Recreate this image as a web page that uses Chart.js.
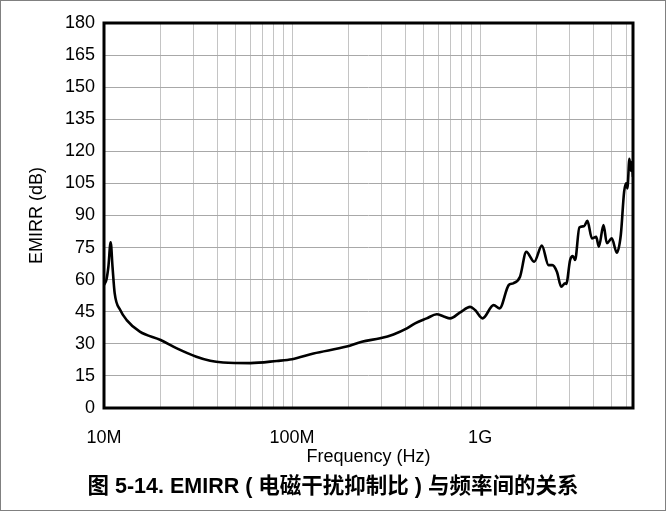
<!DOCTYPE html>
<html>
<head>
<meta charset="utf-8">
<script src="https://cdn.jsdelivr.net/npm/chart.js@4/dist/chart.umd.min.js"></script>
<style>
  html, body { margin: 0; padding: 0; background: #fff; }
  #wrap { width: 666px; height: 511px; }
</style>
</head>
<body>
<div id="wrap"><canvas id="c" width="666" height="511"></canvas></div>
<script>
// Measured EMIRR versus frequency
const freqMHz = [
  10, 10.3, 10.55, 10.85, 11.1, 11.4, 12.2, 13.2, 15.5, 20,
  24.4, 31, 36.7, 43, 60, 83, 100, 130, 195, 235,
  294, 346, 408, 451, 520, 588, 640, 692, 783, 885,
  940, 1030, 1180, 1270, 1420, 1500, 1630, 1760, 1940, 2130,
  2310, 2420, 2560, 2700, 2830, 2870, 3010, 3110, 3200, 3370,
  3570, 3720, 3930, 4140, 4280, 4530, 4720, 5010, 5330, 5600,
  5830, 5980, 6070, 6220, 6330, 6410, 6500
];
const emirrDb = [
  57.5, 60, 66, 77.5, 66, 53.6, 45.8, 41.1, 35.7, 31.8,
  27.9, 24.0, 22.1, 21.3, 21.0, 22.0, 22.8, 25.5, 28.7, 31.0,
  32.6, 34.4, 37.2, 39.6, 41.9, 43.8, 42.8, 41.9, 44.7, 47.3,
  45.8, 41.9, 48.1, 46.6, 57.5, 58.3, 61.4, 73.0, 68.4, 75.9,
  66.8, 66.8, 63.7, 56.7, 58.3, 58.0, 69.2, 71.0, 69.2, 84.4,
  85.0, 87.5, 79.3, 80.0, 75.4, 85.5, 77.0, 79.3, 72.6, 81.0,
  101.0, 105.0, 102.7, 116.5, 111.0, 115.0, 108.0
];

// Axis ticks
const xMin = 1e7;
const xMax = 6.5e9;
const xDecades = [1e7, 1e8, 1e9];
const xDecadeLabels = ['10M', '100M', '1G'];
const xMultipliers = [1, 2, 3, 4, 5, 6, 7, 8, 9];
const yMin = 0;
const yMax = 180;
const yStep = 15;

const captionText = '图 5-14. EMIRR ( 电磁干扰抑制比 ) 与频率间的关系';

const xGridTicks = [];
xDecades.forEach(d => xMultipliers.forEach(m => {
  const v = d * m;
  if (v >= xMin && v <= xMax) xGridTicks.push(v);
}));

const points = freqMHz.map((f, i) => ({ x: f * 1e6, y: emirrDb[i] }));

const FONT = '"Liberation Sans", Arial, sans-serif';

const framePlugin = {
  id: 'frameAndCaption',
  afterDraw(chart) {
    const { ctx, chartArea: a } = chart;
    ctx.save();
    ctx.lineWidth = 3;
    ctx.strokeStyle = '#000';
    ctx.strokeRect(a.left, a.top, a.right - a.left, a.bottom - a.top);
    ctx.lineWidth = 1;
    ctx.strokeStyle = '#808080';
    ctx.strokeRect(0.5, 0.5, chart.width - 1, chart.height - 1);
    ctx.fillStyle = '#000';
    ctx.font = 'bold 21.5px "Liberation Sans", "Noto Sans CJK SC", sans-serif';
    ctx.textAlign = 'center';
    ctx.textBaseline = 'middle';
    ctx.fillText(captionText, chart.width / 2, 487);
    ctx.restore();
  }
};

new Chart(document.getElementById('c'), {
  type: 'line',
  data: {
    datasets: [{
      data: points,
      borderColor: '#000',
      borderWidth: 2.6,
      pointRadius: 0,
      fill: false,
      cubicInterpolationMode: 'monotone'
    }]
  },
  options: {
    responsive: false,
    animation: false,
    devicePixelRatio: 1,
    layout: { padding: { top: 23, right: 33, bottom: 43, left: 0 } },
    plugins: { legend: { display: false }, tooltip: { enabled: false }, title: { display: false } },
    scales: {
      x: {
        type: 'logarithmic',
        min: xMin,
        max: xMax,
        afterBuildTicks: s => { s.ticks = xGridTicks.map(v => ({ value: v })); },
        afterFit: s => { s.height = 60; },
        border: { display: false },
        grid: { color: '#c4c4c4', lineWidth: 1, drawTicks: false },
        ticks: {
          autoSkip: false, maxRotation: 0, minRotation: 0,
          padding: 19,
          color: '#000',
          font: { family: FONT, size: 18 },
          callback: v => {
            const i = xDecades.indexOf(v);
            return i >= 0 ? xDecadeLabels[i] : '';
          }
        },
        title: {
          display: true, text: 'Frequency (Hz)', color: '#000',
          font: { family: FONT, size: 18 },
          padding: { top: 0, bottom: 0 }
        }
      },
      y: {
        min: yMin,
        max: yMax,
        afterFit: s => { s.width = 104; },
        border: { display: false },
        grid: { color: '#a8a8a8', lineWidth: 1, drawTicks: false },
        ticks: {
          stepSize: yStep,
          padding: 9,
          color: '#000',
          font: { family: FONT, size: 18 }
        },
        title: {
          display: true, text: 'EMIRR (dB)', color: '#000',
          font: { family: FONT, size: 18 },
          padding: { top: 26, bottom: 0 }
        }
      }
    }
  },
  plugins: [framePlugin]
});
</script>
</body>
</html>
